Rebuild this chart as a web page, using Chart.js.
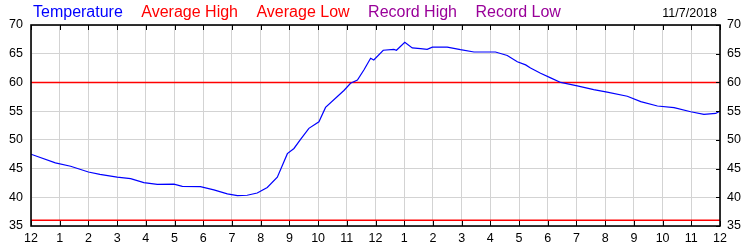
<!DOCTYPE html>
<html>
<head>
<meta charset="utf-8">
<script src="https://cdn.jsdelivr.net/npm/chart.js@4.4.0/dist/chart.umd.min.js"></script>
<style>
  body { margin: 0; background: #fff; }
  canvas { display: block; }
</style>
</head>
<body>
<canvas id="temp" width="750" height="250"></canvas>
<script>

 // hour of day (0 = midnight) and temperature
 var hours = [0,0.85,1.38,2,2.4,3,3.47,3.93,4.4,4.98,5.27,5.9,6.37,6.84,7.19,7.53,7.88,8.23,8.58,8.93,
   9.16,9.39,9.68,10.03,10.26,10.9,11.13,11.37,11.6,11.83,11.94,12.27,12.64,12.73,13.02,13.28,13.57,13.8,13.98,14.5,
   14.96,15.43,16.18,16.59,16.94,17.23,17.4,17.75,18.1,18.45,19.03,19.6,20.07,20.77,21.24,21.82,22.4,22.98,23.44,23.85,24];
 var temps = [47.5,46.0,45.4,44.4,44.0,43.5,43.25,42.55,42.25,42.3,41.9,41.85,41.3,40.6,40.3,40.35,40.75,41.7,43.5,47.6,
   48.5,50.1,52.0,53.15,55.65,58.6,59.85,60.4,62.2,64.2,63.9,65.6,65.75,65.6,67.0,66.0,65.9,65.75,66.15,66.15,
   65.7,65.3,65.3,64.7,63.6,63.05,62.5,61.6,60.8,60.0,59.4,58.75,58.3,57.6,56.65,55.9,55.6,54.9,54.45,54.6,55.0];

 var avgHigh = 60;
 var avgLow = 36;

 var hourLabels = ['12','1','2','3','4','5','6','7','8','9','10','11','12','1','2','3','4','5','6','7','8','9','10','11','12'];
 var legendNames = ['Temperature','Average High','Average Low','Record High','Record Low'];
 var legendColors = ['#0000ff','#ff0000','#ff0000','#990099','#990099'];
 var dateText = '11/7/2018';

 Chart.defaults.font.family = "'Liberation Sans', Arial, sans-serif";
 Chart.defaults.color = '#000';

 var tempPoints = hours.map(function(h, i){ return {x:h, y:temps[i]}; });

 // border box, inward ticks, legend text and date
 var frame = {
   id:'frame',
   afterDraw:function(chart){
     var c = chart.ctx, a = chart.chartArea;
     var xs = chart.scales.x, ys = chart.scales.y2;
     c.save();
     c.strokeStyle = '#000';
     c.lineWidth = 1;
     xs.ticks.forEach(function(t){
       var px = Math.round(xs.getPixelForValue(t.value)) + 0.5;
       c.beginPath();
       c.moveTo(px, a.bottom); c.lineTo(px, a.bottom - 5);
       c.moveTo(px, a.top); c.lineTo(px, a.top + 5);
       c.stroke();
     });
     ys.ticks.forEach(function(t){
       var py = Math.round(ys.getPixelForValue(t.value)) + 0.5;
       c.beginPath();
       c.moveTo(a.right, py); c.lineTo(a.right - 4, py);
       c.stroke();
     });
     c.lineWidth = 1.6;
     c.strokeRect(a.left, a.top, a.right - a.left, a.bottom - a.top);

     c.font = "16px 'Liberation Sans', Arial, sans-serif";
     c.textBaseline = 'alphabetic';
     c.textAlign = 'left';
     var x = a.left + 2;
     legendNames.forEach(function(n, i){
       c.fillStyle = legendColors[i];
       c.fillText(n, x, 17);
       x += c.measureText(n).width + 18.5;
     });
     c.font = "12.5px 'Liberation Sans', Arial, sans-serif";
     c.fillStyle = '#000';
     c.textAlign = 'right';
     c.fillText(dateText, a.right - 3, 17);
     c.restore();
   }
 };

 var chart = new Chart(document.getElementById('temp'),{
   type:'line',
   data:{
     datasets:[
       {label:'Temperature', data:tempPoints, borderColor:'#0000ff', borderWidth:1.2, pointRadius:0, tension:0},
       {label:'Average High', data:[{x:0,y:avgHigh},{x:24,y:avgHigh}], borderColor:'#ff0000', borderWidth:1.5, pointRadius:0},
       {label:'Average Low', data:[{x:0,y:avgLow},{x:24,y:avgLow}], borderColor:'#ff0000', borderWidth:1.5, pointRadius:0}
     ]
   },
   options:{
     responsive:false,
     animation:false,
     layout:{padding:{top:25}},
     plugins:{legend:{display:false}, tooltip:{enabled:false}},
     scales:{
       x:{
         type:'linear', min:0, max:24,
         afterFit:function(s){ s.height = 24; },
         afterBuildTicks:function(s){ s.ticks = hourLabels.map(function(l, i){ return {value:i}; }); },
         ticks:{stepSize:1, autoSkip:false, maxRotation:0, padding:5, font:{size:12.5},
           callback:function(v){ return hourLabels[v]; }},
         grid:{color:'#d3d3d3', drawTicks:false},
         border:{display:false}
       },
       y:{
         position:'left', min:35, max:70,
         afterFit:function(s){ s.width = 31; },
         ticks:{stepSize:5, padding:8, font:{size:12.5}},
         grid:{color:'#d3d3d3', drawTicks:false},
         border:{display:false}
       },
       y2:{
         position:'right', min:35, max:70,
         afterFit:function(s){ s.width = 30; },
         ticks:{stepSize:5, padding:7, font:{size:12.5}},
         grid:{drawOnChartArea:false, drawTicks:false},
         border:{display:false}
       }
     }
   },
   plugins:[frame]
 });

</script>
</body>
</html>
